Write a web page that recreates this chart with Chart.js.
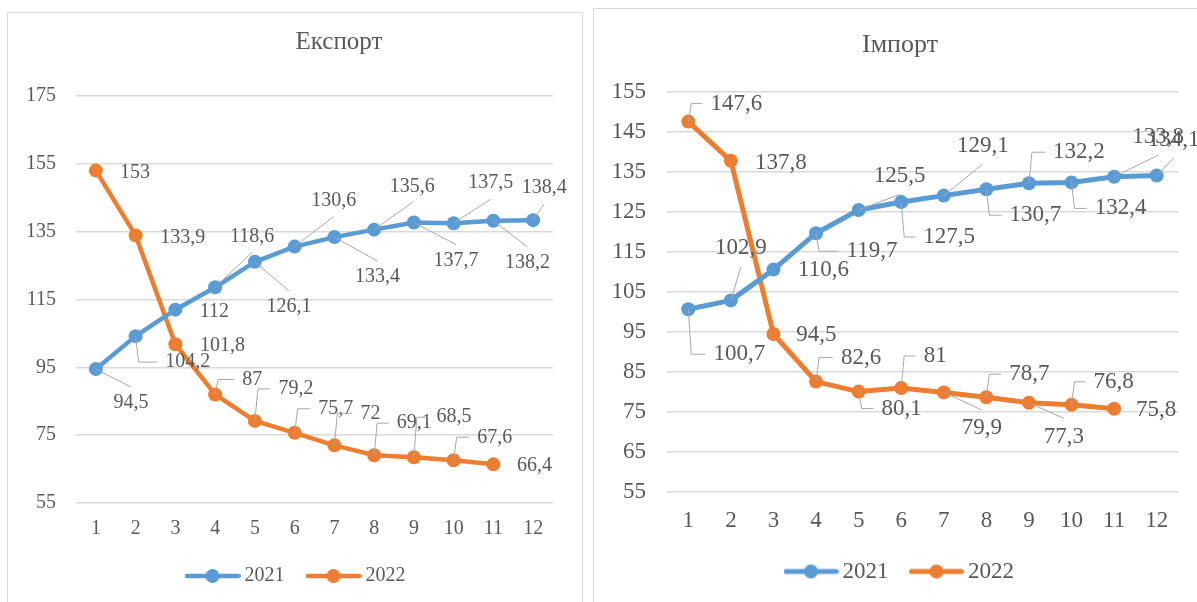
<!DOCTYPE html>
<html>
<head>
<meta charset="utf-8">
<script src="https://cdn.jsdelivr.net/npm/chart.js@4.4.1/dist/chart.umd.min.js"></script>
<style>
  html, body { margin: 0; padding: 0; background: #fff; width: 1197px; height: 602px; overflow: hidden; }
  .panel { position: absolute; border: 1px solid #d9d9d9; box-sizing: border-box; background: #fff; }
  #panelExport { left: 7px; top: 12px; width: 576px; height: 620px; }
  #panelImport { left: 593px; top: 8px; width: 640px; height: 640px; }
  canvas { position: absolute; }
  #exportChart { left: 7px; top: 12px; }
  #importChart { left: 593px; top: 8px; }
</style>
</head>
<body>
<div class="panel" id="panelExport"></div>
<div class="panel" id="panelImport"></div>
<canvas id="exportChart" width="575" height="590"></canvas>
<canvas id="importChart" width="604" height="594"></canvas>
<script>
// Months of the year
const months = ['1', '2', '3', '4', '5', '6', '7', '8', '9', '10', '11', '12'];
const seriesNames = ['2021', '2022'];

// Export index by month
const export2021 = [94.5, 104.2, 112, 118.6, 126.1, 130.6, 133.4, 135.6, 137.7, 137.5, 138.2, 138.4];
const export2022 = [153, 133.9, 101.8, 87, 79.2, 75.7, 72, 69.1, 68.5, 67.6, 66.4];

// Import index by month
const import2021 = [100.7, 102.9, 110.6, 119.7, 125.5, 127.5, 129.1, 130.7, 132.2, 132.4, 133.8, 134.1];
const import2022 = [147.6, 137.8, 94.5, 82.6, 80.1, 81, 79.9, 78.7, 77.3, 76.8, 75.8];

// Value-axis tick marks
const exportTicks = [55, 75, 95, 115, 135, 155, 175];
const importTicks = [55, 65, 75, 85, 95, 105, 115, 125, 135, 145, 155];

// Data-label placement relative to each point: [dx, dy, leader]
// leader: 0 = none, 1 = straight line, 2 = elbow line
const exportPlace2021 = [[35,34,1],[52,26,2],[39,2,0],[37,-51,1],[34,45,1],[39,-46,1],[43,40,1],[38,-43,1],[42,38,1],[37,-40,1],[34,42,1],[11,-32,1]];
const exportPlace2022 = [[39,2,0],[47,2,0],[47,1,0],[37,-15,2],[41,-32,2],[41,-24,2],[36,-32,2],[40,-32,2],[40,-40,2],[41,-23,2],[41,1,0]];
const importPlace2021 = [[51,45,2],[10,-52,1],[50,0,0],[56,18,2],[41,-34,1],[48,35,2],[39,-50,1],[49,26,2],[50,-31,2],[49,26,2],[44,-40,1],[17,-36,1]];
const importPlace2022 = [[48,-18,2],[50,2,0],[43,1,0],[45,-24,2],[43,17,2],[34,-32,2],[38,36,1],[43,-23,2],[35,34,1],[42,-23,2],[42,1,0]];

const BLUE = '#5b9bd5';
const ORANGE = '#ed7d31';
const TEXT = '#595959';
const LEADER = '#a6a6a6';
const GRID = '#d9d9d9';
const FONT = '"Liberation Serif", "Times New Roman", serif';

function fmt(v) { return String(v).replace('.', ','); }

// Line-with-dot swatch used in the legend
function legendMarker(color, w, lw, r) {
  const c = document.createElement('canvas');
  c.width = w; c.height = Math.ceil(2 * r + 2);
  const g = c.getContext('2d');
  const cy = c.height / 2;
  g.strokeStyle = color; g.lineWidth = lw; g.lineCap = 'round';
  g.beginPath(); g.moveTo(lw / 2, cy); g.lineTo(w - lw / 2, cy); g.stroke();
  g.fillStyle = color;
  g.beginPath(); g.arc(w / 2, cy, r, 0, Math.PI * 2); g.fill();
  return c;
}

// Value labels with leader lines
function valueLabels(fontSize) {
  return {
    id: 'valueLabels',
    afterDatasetsDraw(chart) {
      const ctx = chart.ctx;
      ctx.save();
      ctx.font = fontSize + 'px ' + FONT;
      ctx.textAlign = 'center';
      ctx.textBaseline = 'middle';
      chart.data.datasets.forEach((ds, di) => {
        const meta = chart.getDatasetMeta(di);
        meta.data.forEach((pt, i) => {
          const place = ds.labelPlacement[i];
          const text = fmt(ds.data[i]);
          const lx = pt.x + place[0];
          const ly = pt.y + place[1];
          const w = ctx.measureText(text).width;
          ctx.strokeStyle = LEADER;
          ctx.lineWidth = 1;
          if (place[2] === 1) {
            ctx.beginPath();
            ctx.moveTo(pt.x, pt.y);
            ctx.lineTo(lx, ly + (place[1] > 0 ? -1 : 1) * fontSize * 0.8);
            ctx.stroke();
          } else if (place[2] === 2) {
            ctx.beginPath();
            ctx.moveTo(pt.x, pt.y);
            ctx.lineTo(pt.x + 3, ly);
            ctx.lineTo(lx - w / 2 - 8, ly);
            ctx.stroke();
          }
          ctx.fillStyle = TEXT;
          ctx.fillText(text, lx, ly);
        });
      });
      ctx.restore();
    }
  };
}

// Chart heading, plus a horizontal nudge for the legend row
function panelTitle(text, x, y, size, legendShift) {
  return {
    id: 'panelTitle',
    afterLayout(chart) {
      chart.legend.left += legendShift;
      chart.legend.right += legendShift;
    },
    afterDraw(chart) {
      const ctx = chart.ctx;
      ctx.save();
      ctx.font = size + 'px ' + FONT;
      ctx.fillStyle = TEXT;
      ctx.textAlign = 'center';
      ctx.textBaseline = 'middle';
      ctx.fillText(text, x, y);
      ctx.restore();
    }
  };
}

function buildChart(canvasId, cfg) {
  const canvas = document.getElementById(canvasId);
  const H = canvas.height;
  const font = { family: FONT, size: cfg.fs };
  const markers = [legendMarker(BLUE, cfg.mw, cfg.lw, cfg.r), legendMarker(ORANGE, cfg.mw, cfg.lw, cfg.r)];
  return new Chart(canvas, {
    type: 'line',
    data: {
      labels: months,
      datasets: [
        { label: seriesNames[0], data: cfg.a, borderColor: BLUE, backgroundColor: BLUE, labelPlacement: cfg.pa },
        { label: seriesNames[1], data: cfg.b, borderColor: ORANGE, backgroundColor: ORANGE, labelPlacement: cfg.pb }
      ]
    },
    options: {
      responsive: false,
      animation: false,
      devicePixelRatio: 1,
      layout: { padding: { left: 0, right: cfg.padR, top: cfg.top, bottom: cfg.padB } },
      elements: {
        line: { borderWidth: cfg.lw, tension: 0, borderCapStyle: 'round', borderJoinStyle: 'round' },
        point: { radius: cfg.r, hoverRadius: cfg.r, borderWidth: 0 }
      },
      scales: {
        x: {
          offset: true,
          grid: { display: false, drawTicks: false },
          border: { display: false },
          ticks: { color: TEXT, font: font, padding: cfg.xPad, maxRotation: 0, autoSkip: false },
          afterFit(s) { s.height = H - cfg.padB - s.chart.legend.height - cfg.bottom; }
        },
        y: {
          min: cfg.ticks[0],
          max: cfg.ticks[cfg.ticks.length - 1],
          afterBuildTicks(s) { s.ticks = cfg.ticks.map(v => ({ value: v })); },
          grid: { color: GRID, lineWidth: 1.5, drawTicks: false },
          border: { display: false },
          ticks: { color: TEXT, font: font, padding: cfg.yPad },
          afterFit(s) { s.width = cfg.left; }
        }
      },
      plugins: {
        legend: {
          position: 'bottom',
          labels: {
            usePointStyle: true,
            pointStyleWidth: cfg.psw,
            padding: cfg.legPad,
            color: TEXT,
            font: font,
            generateLabels(chart) {
              const items = Chart.defaults.plugins.legend.labels.generateLabels(chart);
              items.forEach(it => { it.pointStyle = markers[it.datasetIndex]; });
              return items;
            }
          }
        },
        tooltip: { enabled: false }
      }
    },
    plugins: [valueLabels(cfg.fs), panelTitle(cfg.title, cfg.titleX, cfg.titleY, cfg.titleSize, cfg.legShift)]
  });
}

buildChart('exportChart', {
  a: export2021, b: export2022, pa: exportPlace2021, pb: exportPlace2022,
  ticks: exportTicks, title: 'Експорт', titleX: 332, titleY: 30, titleSize: 25,
  fs: 20, lw: 4.5, r: 7, mw: 56, psw: 44, legPad: 27, legShift: 18,
  left: 69, padR: 29, top: 84, bottom: 491, padB: 6, xPad: 14, yPad: 20
});

buildChart('importChart', {
  a: import2021, b: import2022, pa: importPlace2021, pb: importPlace2022,
  ticks: importTicks, title: 'Імпорт', titleX: 307, titleY: 37, titleSize: 26,
  fs: 23, lw: 5, r: 7, mw: 55, psw: 40, legPad: 28, legShift: 17,
  left: 74, padR: 19, top: 84, bottom: 484, padB: 9, xPad: 15, yPad: 21
});
</script>
</body>
</html>
